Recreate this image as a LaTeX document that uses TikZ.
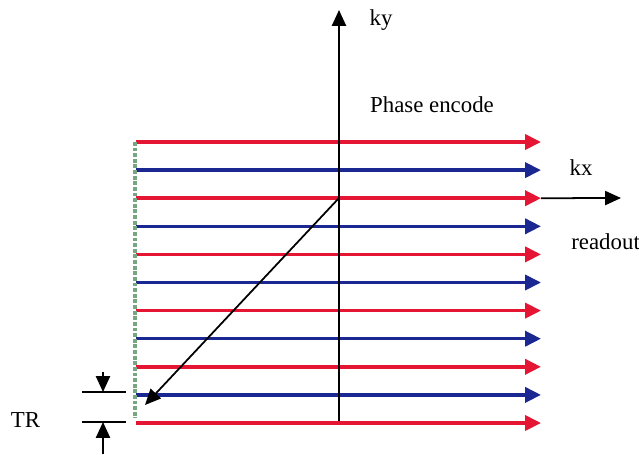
\documentclass[tikz,border=0pt]{standalone}
\usepackage{fontspec}
\setmainfont{Liberation Serif}
\definecolor{linered}{RGB}{228,22,52}
\definecolor{lineblue}{RGB}{28,40,145}
\definecolor{tracegreen}{RGB}{120,165,130}
\usetikzlibrary{arrows.meta, positioning}

\begin{document}
\begin{tikzpicture}[x=0.02cm, y=-0.02cm,
    readline/.style={line width=2pt, -{Triangle[length=9pt, width=8.5pt]}},
    axis/.style={line width=1pt, -{Triangle[length=9pt, width=8pt]}},
    label/.style={font=\fontsize{13}{16}\selectfont, inner sep=0pt},
  ]
    \useasboundingbox (0,0) rectangle (639,454);
    % readout lines, red and blue in turn
    \foreach \i in {0,...,10} {
      \pgfmathsetmacro{\yy}{142+28.1*\i}
      \ifodd\i \def\lc{lineblue}\else \def\lc{linered}\fi
      \coordinate (l\i) at (136,\yy);
      \coordinate (r\i) at (541,\yy);
      \draw[readline, \lc] (l\i) -- (r\i);
    }
    \draw[tracegreen, line width=2.2pt, densely dotted] (135,142) -- (135,418);
    % axes
    \coordinate (ybot) at (339,421);
    \coordinate (ytop) at (339,10);
    \coordinate (xend) at (621,198);
    \draw[axis] (ybot) -- (ytop);
    \draw[axis] (r2) -- (xend);
    \coordinate (centre) at (339,198);
    \coordinate (jump) at (145,405);
    \draw[axis] (centre) -- (jump);
    \node[label] (ky) at (381,20) {ky};
    \node[label] (phase) at (432,105) {Phase encode};
    \node[label] (kx) at (581,168) {kx};
    \node[label, anchor=west] (readout) at (571,242) {readout};
    % TR marker
    \coordinate (t1a) at (82,392);
    \coordinate (t1b) at (126,392);
    \coordinate (t2a) at (82,422);
    \coordinate (t2b) at (126,422);
    \draw[line width=1pt] (t1a) -- (t1b);
    \draw[line width=1pt] (t2a) -- (t2b);
    \coordinate (a1s) at (103,372);
    \coordinate (a1e) at (103,392);
    \coordinate (a2s) at (103,454);
    \coordinate (a2e) at (103,422);
    \draw[axis] (a1s) -- (a1e);
    \draw[axis] (a2s) -- (a2e);
    \node[label] (tr) at (25.5,420) {TR};
  \end{tikzpicture}
\end{document}
